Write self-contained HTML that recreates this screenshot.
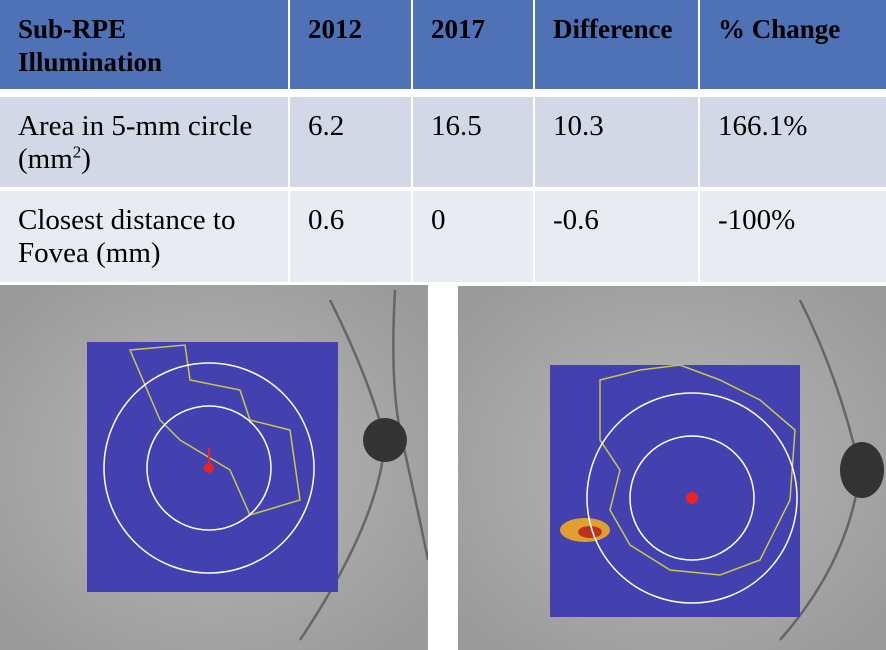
<!DOCTYPE html>
<html><head><meta charset="utf-8"><style>
body{margin:0;width:886px;height:650px;overflow:hidden;background:#fff;position:relative;font-family:"Liberation Serif",serif}
.c{position:absolute;box-sizing:border-box;padding:13px 0 0 18px;color:#000;font-size:29px;line-height:33px}
.h{background:#4f71b5;font-weight:bold;font-size:27px;height:89px;top:0}
.r1{background:#d3d8e6;top:97px;height:90px}
.r2{background:#e9ebf2;top:191px;height:91px}
</style></head><body>
<div class="c h" style="left:0;width:288px">Sub-RPE<br>Illumination</div>
<div class="c h" style="left:290px;width:121px">2012</div>
<div class="c h" style="left:413px;width:120px">2017</div>
<div class="c h" style="left:535px;width:163px">Difference</div>
<div class="c h" style="left:700px;width:186px">% Change</div>
<div class="c r1" style="left:0;width:288px">Area in 5-mm circle<br>(mm<sup style="font-size:17px;line-height:0">2</sup>)</div>
<div class="c r1" style="left:290px;width:121px">6.2</div>
<div class="c r1" style="left:413px;width:120px">16.5</div>
<div class="c r1" style="left:535px;width:163px">10.3</div>
<div class="c r1" style="left:700px;width:186px">166.1%</div>
<div class="c r2" style="left:0;width:288px">Closest distance to<br>Fovea (mm)</div>
<div class="c r2" style="left:290px;width:121px">0.6</div>
<div class="c r2" style="left:413px;width:120px">0</div>
<div class="c r2" style="left:535px;width:163px">-0.6</div>
<div class="c r2" style="left:700px;width:186px">-100%</div>
<svg style="position:absolute;left:0;top:0" width="886" height="650">
<defs><radialGradient id="g" cx="50%" cy="50%" r="65%"><stop offset="0" stop-color="#b8b8b8"/><stop offset="1" stop-color="#9a9a9a"/></radialGradient>
<clipPath id="cl"><rect x="0" y="285" width="428" height="365"/></clipPath>
<clipPath id="cr"><rect x="458" y="286" width="428" height="364"/></clipPath></defs>
<rect x="0" y="285" width="428" height="365" fill="url(#g)"/>
<rect x="458" y="286" width="428" height="364" fill="url(#g)"/>
<g clip-path="url(#cl)">
<path d="M330 300 Q370 380 385 440 Q380 520 300 640" stroke="#666" stroke-width="2.5" fill="none"/>
<path d="M395 290 Q390 380 400 430 Q420 520 428 560" stroke="#666" stroke-width="2.5" fill="none"/>
<circle cx="385" cy="440" r="22" fill="#333"/>
</g>
<rect x="87" y="342" width="251" height="250" fill="#4341b0"/>
<path d="M130 350 L185 345 L190 380 L240 390 L250 420 L290 430 L300 500 L250 515 L230 470 L180 440 L160 420 Z" fill="none" stroke="#c8c84a" stroke-width="1.5"/>
<circle cx="209" cy="468" r="105" fill="none" stroke="#fff" stroke-width="1.5"/>
<circle cx="209" cy="468" r="62" fill="none" stroke="#fff" stroke-width="1.5"/>
<line x1="209" y1="448" x2="209" y2="468" stroke="#e22" stroke-width="2"/>
<circle cx="209" cy="468" r="5" fill="#e22"/>
<g clip-path="url(#cr)">
<path d="M800 300 Q840 380 860 470 Q850 560 780 640" stroke="#666" stroke-width="2.5" fill="none"/>
<ellipse cx="862" cy="470" rx="22" ry="28" fill="#333"/>
</g>
<rect x="550" y="365" width="250" height="252" fill="#4341b0"/>
<path d="M600 380 L640 370 L680 365 L720 380 L760 400 L795 430 L790 500 L760 560 L720 575 L670 570 L630 545 L610 510 L620 470 L600 440 Z" fill="none" stroke="#c8c84a" stroke-width="1.5"/>
<ellipse cx="585" cy="530" rx="25" ry="12" fill="#e0a030"/>
<ellipse cx="590" cy="532" rx="12" ry="6" fill="#c03020"/>
<circle cx="692" cy="498" r="105" fill="none" stroke="#fff" stroke-width="1.5"/>
<circle cx="692" cy="498" r="62" fill="none" stroke="#fff" stroke-width="1.5"/>
<circle cx="692" cy="498" r="6" fill="#e22"/>
</svg>
</body></html>
